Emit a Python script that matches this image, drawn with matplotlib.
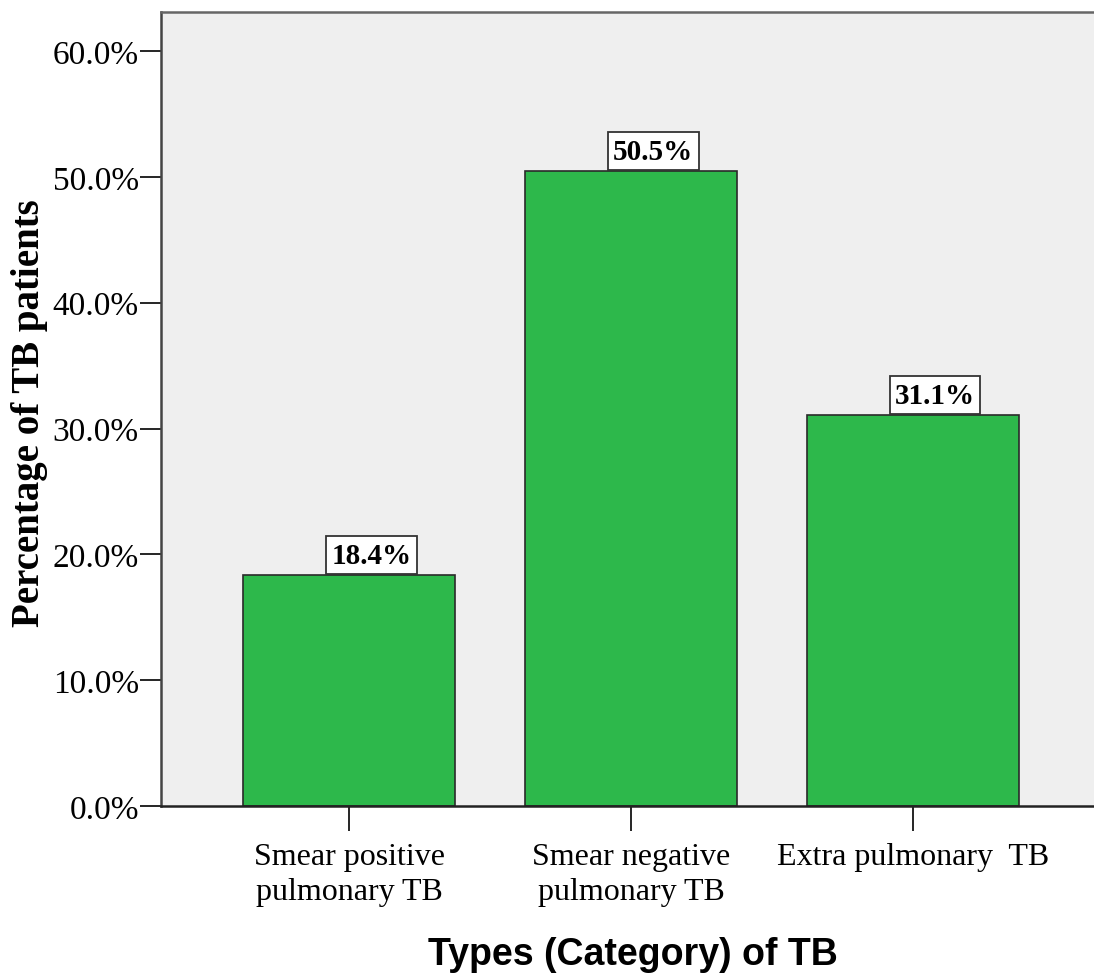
import numpy as np
import matplotlib
matplotlib.use("Agg")
import matplotlib.pyplot as plt
from matplotlib.ticker import FuncFormatter

# percentage of TB patients by type
categories = ["Smear positive\npulmonary TB", "Smear negative\npulmonary TB", "Extra pulmonary  TB"]
percentages = [18.4, 50.5, 31.1]
y_ticks = [0, 10, 20, 30, 40, 50, 60]

serif = "Liberation Serif"
sans = "Liberation Sans"

fig = plt.figure(figsize=(10.94, 9.78), dpi=100)
ax = fig.add_axes([0.1472, 0.1748, 0.8592, 0.8119])
ax.set_facecolor("#efefef")

x = np.arange(len(categories))
ax.bar(x, percentages, width=0.75, color="#2db84b", edgecolor="#2a2a2a", linewidth=1.2, zorder=2)

# boxed value labels sitting on top of each bar
lab_size = 21
pad = 0.18
for xi, v in zip(x, percentages):
    ax.annotate(f"{v:.1f}%", xy=(xi, v), xytext=(16, pad * lab_size + 0.5), textcoords="offset points",
                ha="center", va="bottom", fontsize=lab_size, fontweight="bold", family=serif,
                bbox=dict(boxstyle=f"square,pad={pad}", fc="white", ec="#333333", lw=1.3), zorder=3)

ax.set_xlim(-0.667, 2.667)
ax.set_ylim(0, 63.1)
ax.set_xticks(x)
ax.set_xticklabels(categories, fontsize=23, family=serif, linespacing=1.25)
ax.set_yticks(y_ticks)
ax.yaxis.set_major_formatter(FuncFormatter(lambda v, p: f"{v:.1f}%"))
for t in ax.get_yticklabels():
    t.set_fontsize(24)
    t.set_family(serif)

ax.tick_params(axis="y", direction="out", length=15, width=1.2, pad=1, colors="black")
ax.tick_params(axis="x", direction="out", length=18, width=1.2, pad=8, colors="black")

ax.spines["right"].set_visible(False)
ax.spines["left"].set_color("#444444")
ax.spines["bottom"].set_color("#222222")
ax.spines["top"].set_color("#666666")
for s in ["left", "bottom", "top"]:
    ax.spines[s].set_linewidth(1.8)

fig.text(0.0274, 0.5777, "Percentage of TB patients", rotation=90, ha="center", va="center",
         fontsize=28, fontweight="bold", family=serif)
fig.text(0.5786, 0.0235, "Types (Category) of TB", ha="center", va="center",
         fontsize=27, fontweight="bold", family=sans)

fig.savefig("out.png", dpi=100)
